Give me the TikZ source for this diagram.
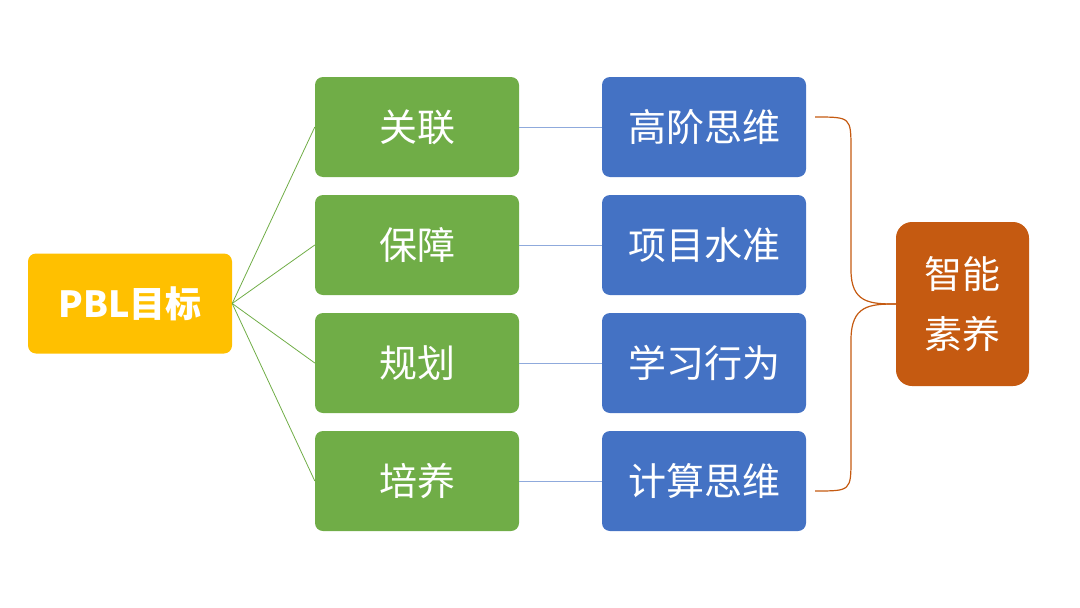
\documentclass[tikz,border=0pt]{standalone}
\usepackage{fontspec}
\setmainfont{Noto Sans CJK SC}
\begin{document}
\begin{tikzpicture}[x=1pt,y=-1pt,
 bx/.style={rounded corners=8pt,minimum width=204pt,minimum height=100pt,text=white,inner sep=0pt,font=\fontsize{38}{44}\selectfont},
 gbox/.style={bx,fill=green!50!black!70!lime!60!olive,fill={rgb,255:red,112;green,173;blue,71}},
 bbox/.style={bx,fill={rgb,255:red,68;green,114;blue,196}},
 gl/.style={draw={rgb,255:red,112;green,173;blue,71},line width=0.8pt},
 bl/.style={draw={rgb,255:red,143;green,170;blue,220},line width=0.8pt},
 ol/.style={draw={rgb,255:red,197;green,90;blue,17},line width=1.2pt}]
\path[use as bounding box] (0,0) rectangle (1080,608);
\node[bx,fill={rgb,255:red,255;green,192;blue,0},font=\bfseries\fontsize{36}{42}\selectfont] (p) at (130,303.5) {PBL目标};
\foreach \n/\y/\g/\b in {1/127/关联/高阶思维,2/245/保障/项目水准,3/363/规划/学习行为,4/481/培养/计算思维}{
 \node[gbox] (g\n) at (417,\y) {\g};
 \node[bbox] (b\n) at (704,\y) {\b};
 \draw[gl] (p.east) -- (g\n.west);
 \draw[bl] (g\n.east) -- (b\n.west);
}
\node[bx,fill={rgb,255:red,197;green,90;blue,17},minimum width=133pt,minimum height=164pt,rounded corners=16pt,align=center,font=\fontsize{38}{60}\selectfont] (o) at (962.5,304) {智能\\素养};
\coordinate (t) at (815,117);
\coordinate (bt) at (815,491);
\draw[ol] (t) .. controls (851,117) .. (851,150) -- (851,270) .. controls (851,303) and (870,304) .. (o.west);
\draw[ol] (bt) .. controls (851,491) .. (851,458) -- (851,340) .. controls (851,305) and (870,304) .. (o.west);
\end{tikzpicture}
\end{document}
